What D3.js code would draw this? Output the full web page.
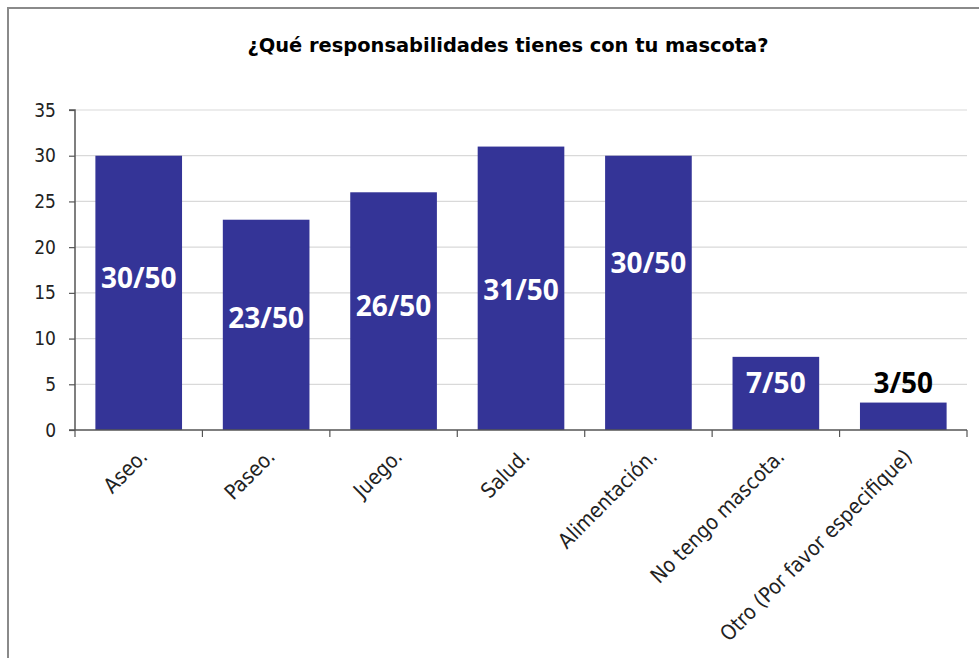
<!DOCTYPE html>
<html>
<head>
<meta charset="utf-8">
<script src="https://cdn.jsdelivr.net/npm/d3@7"></script>
<style>
  html, body { margin: 0; padding: 0; background: #fff; }
  svg { display: block; }
</style>
</head>
<body>
<svg id="chart" width="979" height="658"></svg>
<script>
const title = "¿Qué responsabilidades tienes con tu mascota?";
const categories = ["Aseo.", "Paseo.", "Juego.", "Salud.", "Alimentación.", "No tengo mascota.", "Otro (Por favor especifique)"];
const values = [30, 23, 26, 31, 30, 8, 3];
const barLabels = ["30/50", "23/50", "26/50", "31/50", "30/50", "7/50", "3/50"];
const yTicks = [0, 5, 10, 15, 20, 25, 30, 35];

// label anchor heights (value units) as placed in the original
const labelLevel = [16.6, 12.3, 13.6, 15.3, 18.3, 5.1, 5.1];

(function () {
const svg = d3.select("#chart");
const W = 979, H = 658;
const mLeft = 75, mRight = 967, mTop = 110, mBottom = 430;

// frame
svg.append("rect").attr("x", 8).attr("y", 8).attr("width", W + 20).attr("height", H + 20)
  .attr("fill", "#fff").attr("stroke", "#8a8a8a").attr("stroke-width", 2);

const x = d3.scaleBand().domain(categories).range([mLeft, mRight]).paddingInner(0.32).paddingOuter(0.16);
const y = d3.scaleLinear().domain([0, 35]).range([mBottom, mTop]);

// title
svg.append("text").attr("x", 508).attr("y", 52).attr("text-anchor", "middle")
  .attr("font-family", "DejaVu Sans Condensed, DejaVu Sans, sans-serif")
  .attr("font-weight", "bold").attr("font-size", 19).attr("fill", "#000")
  .attr("textLength", 521).attr("lengthAdjust", "spacingAndGlyphs")
  .text(title);

// gridlines
svg.append("g").selectAll("line").data(yTicks.filter(d => d > 0)).join("line")
  .attr("x1", mLeft).attr("x2", mRight).attr("y1", d => y(d)).attr("y2", d => y(d))
  .attr("stroke", "#d9d9d9").attr("stroke-width", 1.2);

// bars
svg.append("g").selectAll("rect").data(values).join("rect")
  .attr("x", (d, i) => x(categories[i]))
  .attr("y", d => y(d))
  .attr("width", x.bandwidth())
  .attr("height", d => y(0) - y(d))
  .attr("fill", "#343497");

// y axis
const yAxis = d3.axisLeft(y).tickValues(yTicks).tickSize(6).tickPadding(13);
const gy = svg.append("g").attr("transform", `translate(${mLeft},0)`).call(yAxis);
gy.select(".domain").attr("stroke", "#555").attr("stroke-width", 1.5).attr("d", `M-6,${mTop}H0V${mBottom}`);
gy.selectAll(".tick line").attr("stroke", "#555").attr("stroke-width", 1.2);
gy.selectAll(".tick text").attr("font-family", "DejaVu Sans Condensed, DejaVu Sans, sans-serif")
  .attr("font-size", 19).attr("fill", "#222");

// x axis line and boundary ticks
const step = x.step();
const boundaries = categories.map(c => x(c) - step * x.paddingInner() / 2).concat([mRight]);
svg.append("line").attr("x1", mLeft - 6).attr("x2", mRight).attr("y1", mBottom).attr("y2", mBottom)
  .attr("stroke", "#555").attr("stroke-width", 1.5);
svg.append("g").selectAll("line").data(boundaries).join("line")
  .attr("x1", d => d).attr("x2", d => d).attr("y1", mBottom).attr("y2", mBottom + 7)
  .attr("stroke", "#555").attr("stroke-width", 1.2);

// category labels
svg.append("g").selectAll("text").data(categories).join("text")
  .attr("transform", d => `translate(${x(d) + x.bandwidth() / 2 + 10},${mBottom + 28}) rotate(-45)`)
  .attr("text-anchor", "end")
  .attr("font-family", "DejaVu Sans Condensed, DejaVu Sans, sans-serif")
  .attr("font-size", 21).attr("fill", "#222")
  .text(d => d);

// bar labels
svg.append("g").selectAll("text").data(barLabels).join("text")
  .attr("x", (d, i) => x(categories[i]) + x.bandwidth() / 2)
  .attr("y", (d, i) => y(labelLevel[i]))
  .attr("dy", "0.36em")
  .attr("text-anchor", "middle")
  .attr("font-family", "Open Sans, sans-serif")
  .attr("font-weight", "bold").attr("font-size", 28)
  .attr("fill", (d, i) => values[i] * (y(0) - y(1)) > 50 ? "#fff" : "#000")
  .text(d => d);
})();
</script>
</body>
</html>
